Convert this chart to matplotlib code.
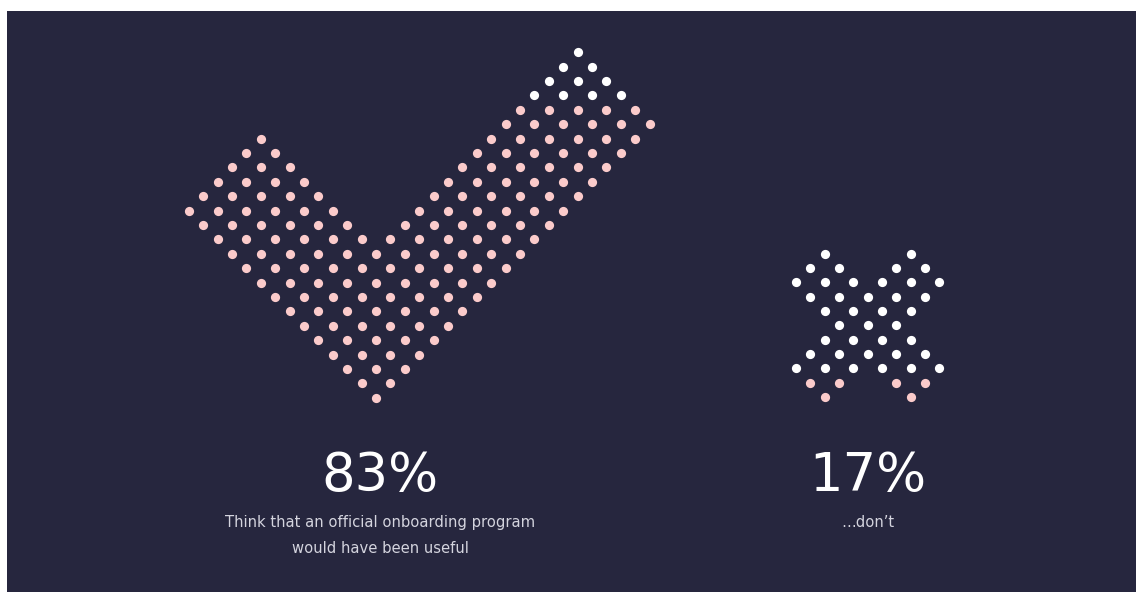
import matplotlib
matplotlib.use('Agg')
import matplotlib.pyplot as plt
import numpy as np

W, H = 1136, 592
DPI = 100
BG = '#26263e'
PINK = '#fbcbcb'
WHITE = '#ffffff'
TEXT_GREY = '#d4d4de'

# ---- data ----
# glyph shapes as bars in diagonal lattice coordinates (a_min, a_max, b_min, b_max)
check_bars = [(0, 5, 0, 13), (0, 19, 0, 5)]
check_white_from_row = 21          # rows at/above this are white
cross_bars = [(-1, 1, -4, 4), (-4, 4, -1, 1)]
cross_pink_to_row = -4             # rows at/below this are pink

percent_labels = ["83%", "17%"]
captions = ["Think that an official onboarding program\nwould have been useful",
            "\u2026don\u2019t"]


def lattice(bars):
    pts = set()
    for a0, a1, b0, b1 in bars:
        for a in range(a0, a1 + 1):
            for b in range(b0, b1 + 1):
                pts.add((a - b, a + b))
    return np.array(sorted(pts), dtype=float)


fig = plt.figure(figsize=(W / DPI, H / DPI), dpi=DPI, facecolor='white')
bg_ax = fig.add_axes([7 / W, 0, 1 - 7 / W, 1 - 11 / H], zorder=-5)
bg_ax.set_facecolor(BG)
bg_ax.set_xticks([])
bg_ax.set_yticks([])
for sp in bg_ax.spines.values():
    sp.set_visible(False)


def glyph_axes(cx, cy, unit, xr, yr):
    x0, x1 = xr
    y0, y1 = yr
    left = cx + x0 * unit
    top = cy - y1 * unit
    w = (x1 - x0) * unit
    h = (y1 - y0) * unit
    ax = fig.add_axes([left / W, 1 - (top + h) / H, w / W, h / H], zorder=2)
    ax.set_xlim(x0, x1)
    ax.set_ylim(y0, y1)
    ax.set_axis_off()
    return ax


S = 44

# check mark
pts = lattice(check_bars)
ax1 = glyph_axes(376, 397.7, 14.4, (-15, 21), (-2, 26))
white = pts[:, 1] >= check_white_from_row
ax1.scatter(pts[~white, 0], pts[~white, 1], s=S, c=PINK, linewidths=0)
ax1.scatter(pts[white, 0], pts[white, 1], s=S, c=WHITE, linewidths=0)

# cross
pts2 = lattice(cross_bars)
ax2 = glyph_axes(867.7, 325.3, 14.35, (-7, 7), (-7, 7))
pink = pts2[:, 1] <= cross_pink_to_row
ax2.scatter(pts2[~pink, 0], pts2[~pink, 1], s=S, c=WHITE, linewidths=0)
ax2.scatter(pts2[pink, 0], pts2[pink, 1], s=S, c=PINK, linewidths=0)

# texts
for (x, lab, cap) in zip([380, 868], percent_labels, captions):
    fig.text(x / W, 1 - 476 / H, lab, ha='center', va='center',
             fontsize=38, color=WHITE, family='DejaVu Sans', zorder=3)
    fig.text(x / W, 1 - 515 / H, cap, ha='center', va='top',
             fontsize=10.6, color=TEXT_GREY, family='DejaVu Sans',
             linespacing=1.95, zorder=3)

fig.savefig('out.png', dpi=DPI, facecolor='white')
